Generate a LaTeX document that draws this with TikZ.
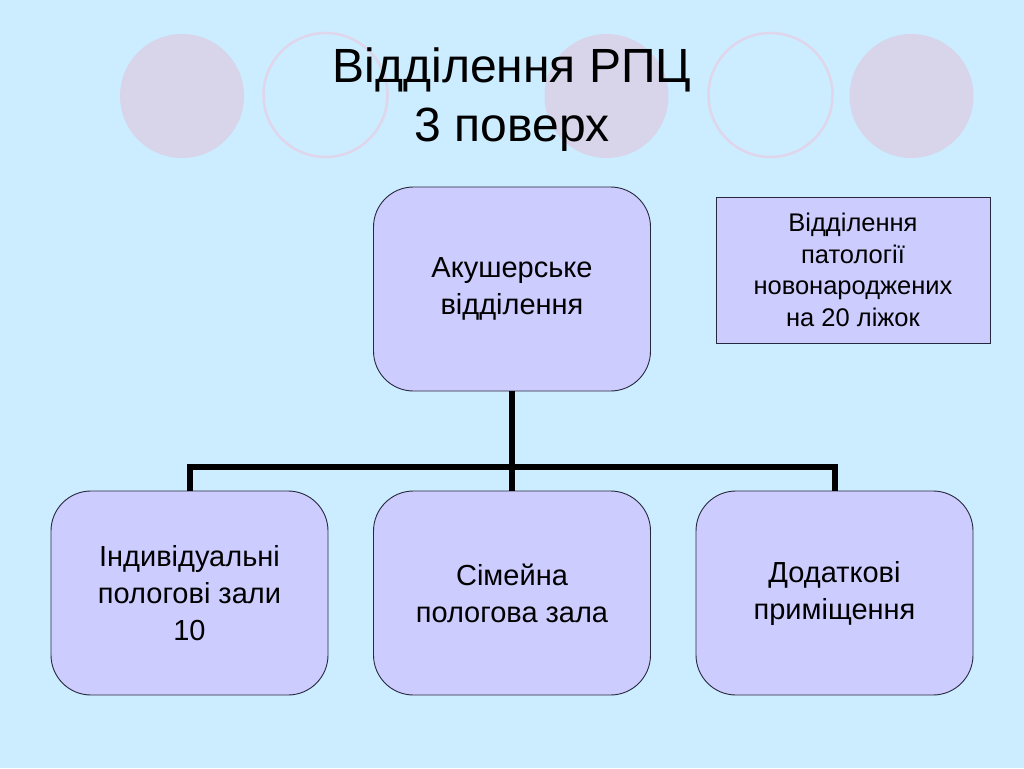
\documentclass[tikz,border=0pt]{standalone}
\usepackage{fontspec}
\setmainfont{Liberation Sans}
\definecolor{bgblue}{RGB}{204,236,255}
\definecolor{circfill}{RGB}{216,212,234}
\definecolor{circline}{RGB}{224,214,236}
\definecolor{boxfill}{RGB}{204,204,255}
\definecolor{boxline}{RGB}{40,40,60}
\begin{document}
\begin{tikzpicture}[x=1pt,y=-1pt,
  dot/.style={fill=circfill,draw=none},
  ring/.style={draw=circline,line width=2.5pt,fill=none},
  rbox/.style={draw=boxline,line width=0.9pt,fill=boxfill,rounded corners=40pt,
    minimum width=277pt,minimum height=204pt,inner sep=0pt,align=center,
    font=\fontsize{29}{37}\selectfont},
  sbox/.style={draw=boxline,line width=0.9pt,fill=boxfill,
    minimum width=274pt,minimum height=146pt,inner sep=0pt,align=center,
    font=\fontsize{25.5}{31.5}\selectfont},
  conn/.style={line width=6pt,black}]
\fill[bgblue] (0,0) rectangle (1024,768);
\useasboundingbox (0,0) rectangle (1024,768);
\fill[dot] (182,96) circle (62);
\draw[ring] (325.5,95) circle (62);
\fill[dot] (606.5,96) circle (62);
\draw[ring] (770.5,95) circle (62);
\fill[dot] (911.5,96) circle (62);
\node[font=\fontsize{48}{59}\selectfont,align=center] (title) at (512,100)
  {Відділення РПЦ\\3 поверх};
\node[rbox] (top) at (512,289) {Акушерське\\відділення};
\node[sbox] (right) at (853,270) {Відділення\\ патології\\новонароджених\\на 20 ліжок};
\node[rbox] (b1) at (189.5,593) {Індивідуальні\\ пологові зали\\10};
\node[rbox] (b2) at (512,593) {Сімейна\\пологова зала};
\node[rbox] (b3) at (834.5,593) {Додаткові\\приміщення};
\coordinate (j) at (512,467);
\draw[conn] (top.south) -- (j);
\draw[conn] (b1.north) -- (b1.north |- j) -- (b3.north |- j) -- (b3.north);
\draw[conn] (j) -- (b2.north);
\end{tikzpicture}
\end{document}
